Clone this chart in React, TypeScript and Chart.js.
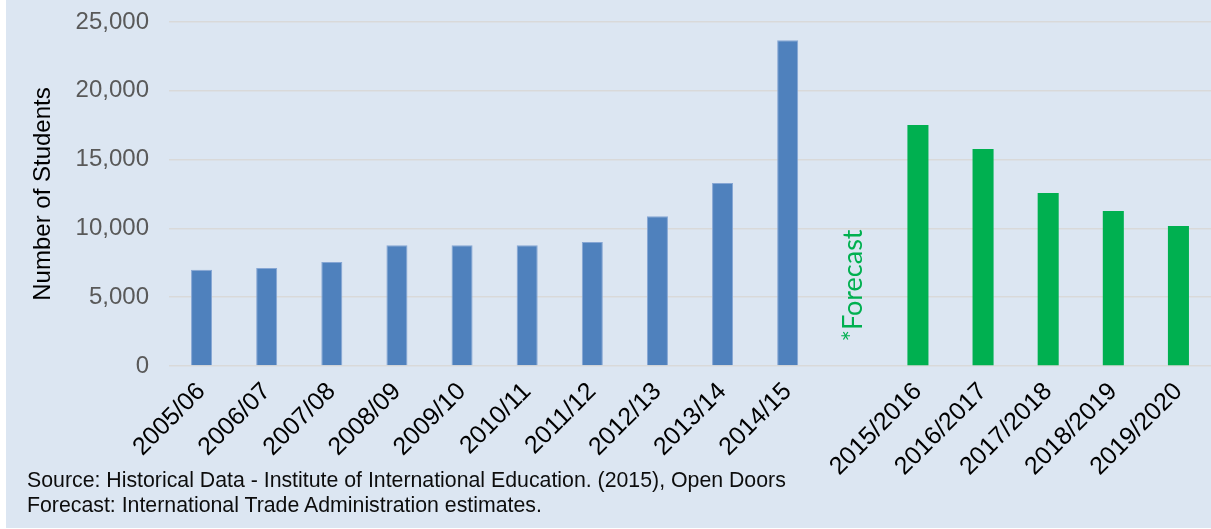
import React, { useEffect, useRef } from 'react';
import { Chart, registerables } from 'chart.js';

Chart.register(...registerables);

const historicalLabels = ['2005/06', '2006/07', '2007/08', '2008/09', '2009/10', '2010/11', '2011/12', '2012/13', '2013/14', '2014/15'];
const forecastLabels = ['2015/2016', '2016/2017', '2017/2018', '2018/2019', '2019/2020'];
const historicalValues = [7000, 7120, 7560, 8770, 8770, 8770, 9010, 10880, 13300, 23670];
const forecastValues = [17520, 15770, 12570, 11270, 10170];
const yTickValues = [0, 5000, 10000, 15000, 20000, 25000];
const yAxisTitle = 'Number of Students';
const forecastNote = '*Forecast';
const sourceLines = [
  'Source: Historical Data - Institute of International Education. (2015), Open Doors',
  'Forecast: International Trade Administration estimates.',
];

const categories = [...historicalLabels, '', ...forecastLabels];
const gapIndex = historicalLabels.length;
const historicalData = categories.map((_, i) => (i < historicalValues.length ? historicalValues[i] : null));
const forecastData = categories.map((_, i) => (i > gapIndex ? forecastValues[i - gapIndex - 1] : null));

const FONT = "'Liberation Sans', Arial, sans-serif";

export default function App() {
  const ref = useRef<HTMLCanvasElement | null>(null);

  useEffect(() => {
    document.body.style.margin = '0';
    const canvas = ref.current;
    if (!canvas) return;

    const bgPlugin = {
      id: 'bg',
      beforeDraw(chart: any) {
        const { ctx, width, height } = chart;
        ctx.save();
        ctx.fillStyle = '#dce6f2';
        ctx.fillRect(0, 0, width, height);
        ctx.restore();
      },
    };

    const notePlugin = {
      id: 'forecastNote',
      afterDatasetsDraw(chart: any) {
        const { ctx } = chart;
        const x = chart.scales.x.getPixelForValue(gapIndex);
        const y = chart.scales.y.getPixelForValue(5850);
        ctx.save();
        ctx.translate(x, y);
        ctx.rotate(-Math.PI / 2);
        ctx.fillStyle = '#00b050';
        ctx.font = "27px Lato, 'Liberation Sans', sans-serif";
        ctx.textAlign = 'center';
        ctx.textBaseline = 'middle';
        ctx.fillText(forecastNote, 0, 0);
        ctx.restore();
      },
    };

    const chart = new Chart(canvas, {
      type: 'bar',
      data: {
        labels: categories,
        datasets: [
          {
            label: 'Historical',
            data: historicalData,
            backgroundColor: '#4f81bd',
            borderColor: '#86a6d4',
            borderWidth: 1,
            barPercentage: 0.323,
            categoryPercentage: 1,
            grouped: false,
          } as any,
          {
            label: 'Forecast',
            data: forecastData,
            backgroundColor: '#00b050',
            borderWidth: 0,
            barPercentage: 0.323,
            categoryPercentage: 1,
            grouped: false,
          } as any,
        ],
      },
      options: {
        responsive: false,
        animation: false,
        layout: { padding: { top: 22, left: 0, right: 0, bottom: 0 } },
        plugins: { legend: { display: false }, tooltip: { enabled: false } },
        scales: {
          x: {
            grid: { display: false, drawTicks: false },
            border: { display: false },
            ticks: {
              autoSkip: false,
              maxRotation: 45,
              minRotation: 45,
              color: '#000000',
              padding: 11,
              font: { family: FONT, size: 25 },
            },
            afterFit: (s: any) => {
              s.height = 162;
            },
          },
          y: {
            min: 0,
            max: 25000,
            afterBuildTicks: (s: any) => {
              s.ticks = yTickValues.map((v) => ({ value: v }));
            },
            ticks: {
              color: '#595959',
              padding: 20,
              font: { family: FONT, size: 24 },
              callback: (v: any) => Number(v).toLocaleString('en-US'),
            },
            grid: { color: '#d9d9d9', lineWidth: 1.5, drawTicks: false },
            border: { display: false },
            title: {
              display: true,
              text: yAxisTitle,
              color: '#000000',
              font: { family: FONT, size: 24 },
              padding: { top: 23, bottom: 0 },
            },
            afterFit: (s: any) => {
              s.width = 163;
              s.paddingTop = 0;
              s.paddingBottom = 0;
            },
          },
        },
      },
      plugins: [bgPlugin, notePlugin],
    });

    return () => chart.destroy();
  }, []);

  return (
    <div style={{ position: 'relative', width: 1211, height: 529, background: '#ffffff', overflow: 'hidden' }}>
      <canvas ref={ref} width={1205} height={528} style={{ position: 'absolute', left: 6, top: 0 }} />
      <div
        style={{
          position: 'absolute',
          left: 27,
          top: 468,
          fontFamily: FONT,
          fontSize: 21.3,
          lineHeight: '25px',
          color: '#0d0d0d',
          whiteSpace: 'nowrap',
        }}
      >
        {sourceLines.map((t) => (
          <div key={t}>{t}</div>
        ))}
      </div>
    </div>
  );
}
